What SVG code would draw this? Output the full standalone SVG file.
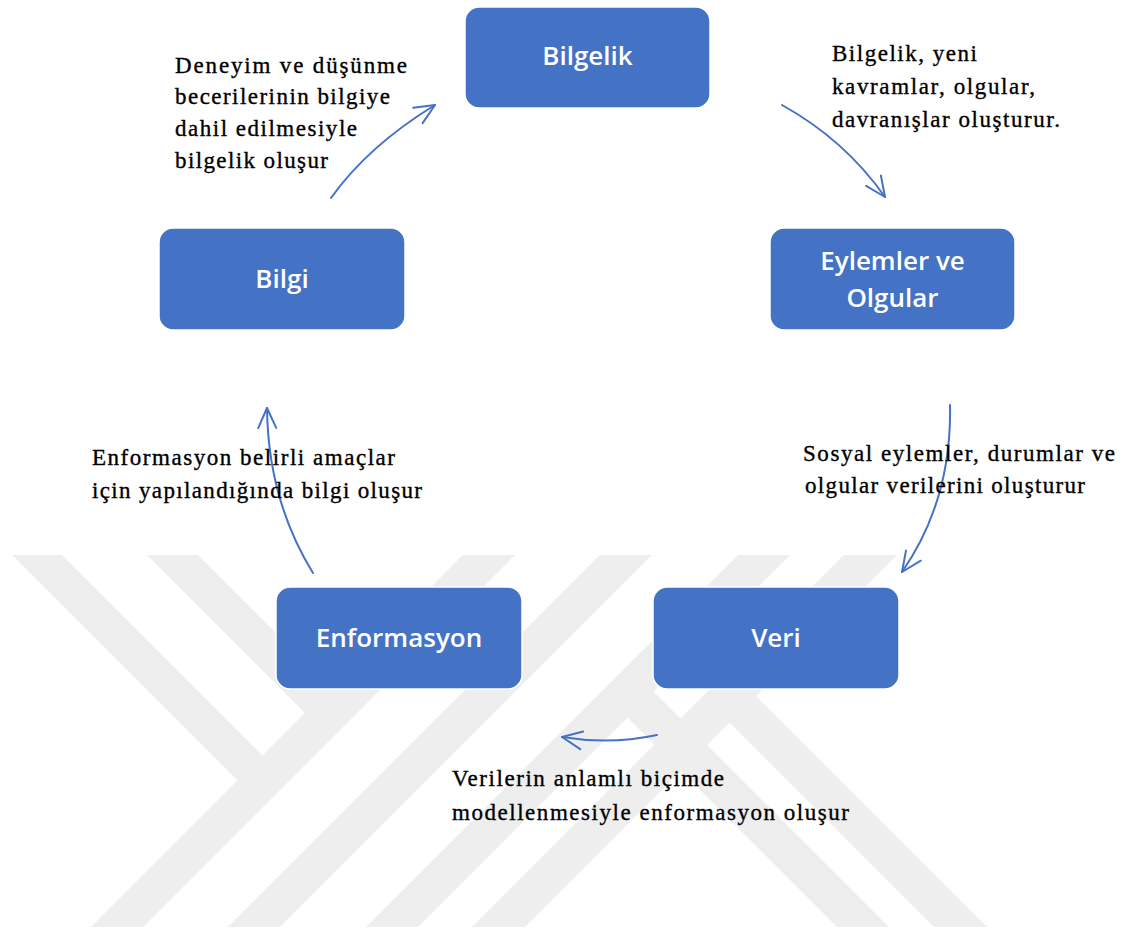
<svg xmlns="http://www.w3.org/2000/svg" width="1127" height="929" viewBox="0 0 1127 929">
<style>
.wm{fill:#eeeeee}
.box{fill:#4472c4;stroke:#ffffff;stroke-width:1.5}
.lbl{font-family:"Open Sans","Liberation Sans",sans-serif;font-size:26px;font-weight:600;fill:#ffffff;text-anchor:middle}
.note{font-family:"Liberation Serif","DejaVu Serif",serif;font-size:23px;fill:#000000;stroke:#000000;stroke-width:0.35}
.conn{fill:none;stroke:#4472c4;stroke-width:2;stroke-linecap:round;marker-end:url(#ah)}
</style>
<defs>
<marker id="ah" markerUnits="userSpaceOnUse" viewBox="-24 -12 26 24" refX="0" refY="0" markerWidth="26" markerHeight="24" orient="auto">
<path d="M-20,-9 L0,0 L-20,9" fill="none" stroke="#4472c4" stroke-width="2" stroke-linecap="round" stroke-linejoin="round"/>
</marker>
<clipPath id="wmclip"><rect x="0" y="555" width="1127" height="372"/></clipPath>
</defs>
<rect width="1127" height="929" fill="#ffffff"/>
<g id="watermark" clip-path="url(#wmclip)">
<polygon class="wm" points="12,555 62,555 273.5,766.5 248.5,791.5"/>
<polygon class="wm" points="147,555 198,555 341.5,698.5 316,724"/>
<polygon class="wm" points="463,555 515,555 143,927 91,927"/>
<polygon class="wm" points="600,555 652,555 280,927 228,927"/>
<polygon class="wm" points="738,555 790,555 418,927 366,927"/>
<polygon class="wm" points="844,555 897,555 525,927 472,927"/>
<polygon class="wm" points="703,696 756,696 987,927 934,927"/>
<polygon class="wm" points="601.5,691.5 653.5,691.5 889,927 837,927"/>
</g>
<g id="connectors">
<path class="conn" d="M331,198 Q368,146 435,105"/>
<path class="conn" d="M782,105 Q845,140 885,197"/>
<path class="conn" d="M950,405 Q952,500 902,572"/>
<path class="conn" d="M657,735 Q610,745 562,737"/>
<path class="conn" d="M313,573 Q268,500 267,408"/>
</g>
<g id="node-bilgelik">
<rect class="box" x="465" y="7" width="245" height="101" rx="14"/>
<text class="lbl" x="587.5" y="65">Bilgelik</text>
</g>
<g id="node-eylemler">
<rect class="box" x="770" y="228" width="245" height="102" rx="14"/>
<text class="lbl" x="892.5" y="270">Eylemler ve</text>
<text class="lbl" x="892.5" y="307">Olgular</text>
</g>
<g id="node-veri">
<rect class="box" x="653" y="587" width="246" height="102" rx="14"/>
<text class="lbl" x="776" y="647">Veri</text>
</g>
<g id="node-enformasyon">
<rect class="box" x="276" y="587" width="246" height="102" rx="14"/>
<text class="lbl" x="399" y="647">Enformasyon</text>
</g>
<g id="node-bilgi">
<rect class="box" x="159" y="228" width="246" height="102" rx="14"/>
<text class="lbl" x="282" y="288">Bilgi</text>
</g>
<g id="notes">
<text class="note" x="175" y="72.5" textLength="232" lengthAdjust="spacing">Deneyim ve düşünme</text>
<text class="note" x="175" y="104" textLength="215" lengthAdjust="spacing">becerilerinin bilgiye</text>
<text class="note" x="175" y="136" textLength="182" lengthAdjust="spacing">dahil edilmesiyle</text>
<text class="note" x="175" y="168" textLength="153" lengthAdjust="spacing">bilgelik oluşur</text>
<text class="note" x="832" y="61" textLength="145" lengthAdjust="spacing">Bilgelik, yeni</text>
<text class="note" x="832" y="94" textLength="203" lengthAdjust="spacing">kavramlar, olgular,</text>
<text class="note" x="832" y="127" textLength="228" lengthAdjust="spacing">davranışlar oluşturur.</text>
<text class="note" x="803" y="461" textLength="312" lengthAdjust="spacing">Sosyal eylemler, durumlar ve</text>
<text class="note" x="805" y="493" textLength="280" lengthAdjust="spacing">olgular verilerini oluşturur</text>
<text class="note" x="92" y="465" textLength="303" lengthAdjust="spacing">Enformasyon belirli amaçlar</text>
<text class="note" x="92" y="498" textLength="330" lengthAdjust="spacing">için yapılandığında bilgi oluşur</text>
<text class="note" x="452" y="786" textLength="272" lengthAdjust="spacing">Verilerin anlamlı biçimde</text>
<text class="note" x="452" y="820" textLength="397" lengthAdjust="spacing">modellenmesiyle enformasyon oluşur</text>
</g>
</svg>
